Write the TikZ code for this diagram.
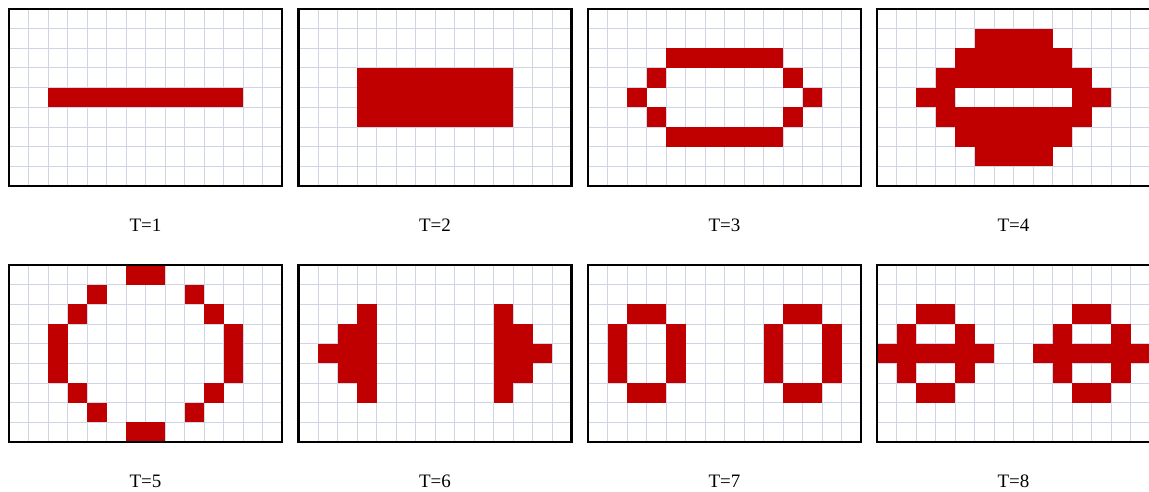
\documentclass[tikz,border=0pt]{standalone}
\usepackage{fontspec}
\setmainfont{Liberation Serif}
\definecolor{cellred}{HTML}{C00000}
\definecolor{gridblue}{HTML}{D0D5E6}
\tikzset{
  gridline/.style={draw=gridblue, line width=1pt},
  framebox/.style={draw=black, line width=2.4pt},
  lab/.style={font=\fontsize{19}{22}\selectfont, inner sep=0pt},
}
\newcommand\cw{19.5}
\newcommand\ch{19.667}
\newcommand\drawpanel[3]{%
  \begin{scope}[shift={(#1,#2)}]
    \foreach \i in {1,...,13} \draw[gridline] ({\i*\cw},0) -- ({\i*\cw},{9*\ch});
    \foreach \j in {1,...,8} \draw[gridline] (0,{\j*\ch}) -- ({14*\cw},{\j*\ch});
    \foreach \a/\b/\c/\d in {#3}
      \fill[cellred] ({\a*\cw},{\b*\ch}) rectangle ({(\c+1)*\cw},{(\d+1)*\ch});
    \draw[framebox] (0,0) rectangle ({14*\cw},{9*\ch});
  \end{scope}}
\begin{document}
\begin{tikzpicture}[x=1pt,y=-1pt]
\useasboundingbox (0,0) rectangle (1149,492);
\fill[white] (0,0) rectangle (1149,492);
% top row
\drawpanel{9}{9}{2/4/11/4}
\drawpanel{298.5}{9}{3/3/10/5}
\drawpanel{588}{9}{4/2/9/2, 3/3/3/3, 10/3/10/3, 2/4/2/4, 11/4/11/4, 3/5/3/5, 10/5/10/5, 4/6/9/6}
\drawpanel{877}{9}{5/1/8/1, 4/2/9/2, 3/3/10/3, 2/4/3/4, 10/4/11/4, 3/5/10/5, 4/6/9/6, 5/7/8/7}
% bottom row
\drawpanel{9}{265}{6/0/7/0, 4/1/4/1, 9/1/9/1, 3/2/3/2, 10/2/10/2, 2/3/2/5, 11/3/11/5, 3/6/3/6, 10/6/10/6, 4/7/4/7, 9/7/9/7, 6/8/7/8}
\drawpanel{298.5}{265}{3/2/3/6, 2/3/2/5, 1/4/1/4, 10/2/10/6, 11/3/11/5, 12/4/12/4}
\drawpanel{588}{265}{2/2/3/2, 1/3/1/5, 4/3/4/5, 2/6/3/6, 10/2/11/2, 9/3/9/5, 12/3/12/5, 10/6/11/6}
\drawpanel{877}{265}{2/2/3/2, 1/3/1/3, 4/3/4/3, 0/4/5/4, 1/5/1/5, 4/5/4/5, 2/6/3/6, 10/2/11/2, 9/3/9/3, 12/3/12/3, 8/4/13/4, 9/5/9/5, 12/5/12/5, 10/6/11/6}
% labels
\node[lab] (t1) at (145.5,225) {T=1};
\node[lab] (t2) at (435,225) {T=2};
\node[lab] (t3) at (724.5,225) {T=3};
\node[lab] (t4) at (1013.5,225) {T=4};
\node[lab] (t5) at (145.5,481) {T=5};
\node[lab] (t6) at (435,481) {T=6};
\node[lab] (t7) at (724.5,481) {T=7};
\node[lab] (t8) at (1013.5,481) {T=8};
\end{tikzpicture}
\end{document}
